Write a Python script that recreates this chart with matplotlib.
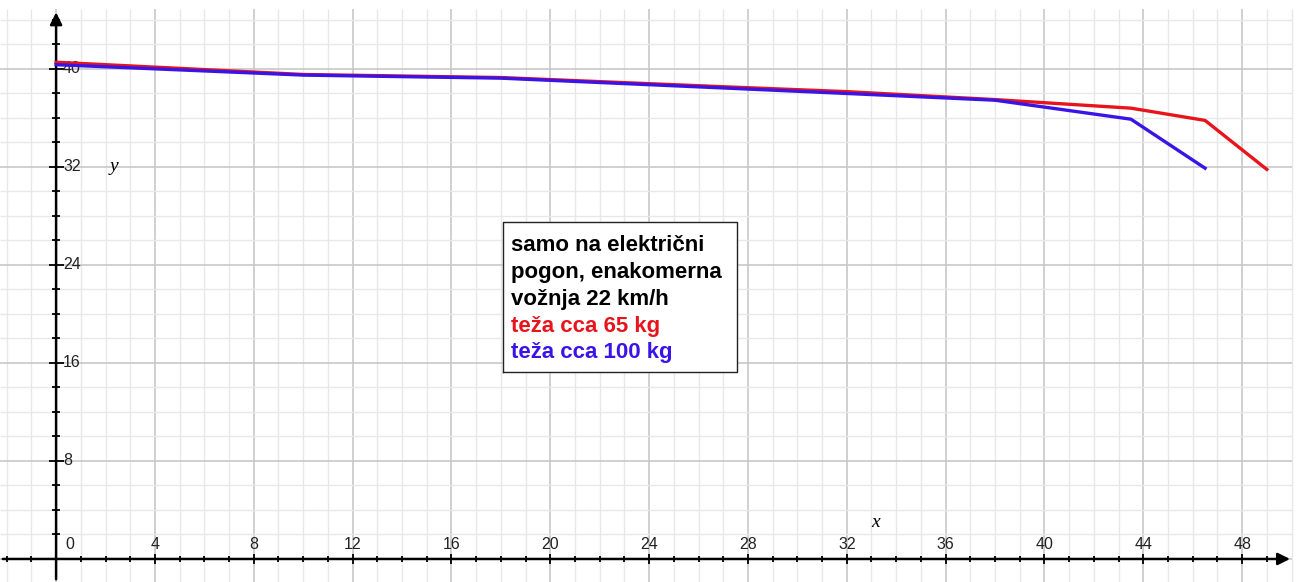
import matplotlib.pyplot as plt
import numpy as np

# podatki odčitani z grafa
x_65 = [0, 10, 18, 27, 32, 38, 43.5, 46.5, 49]
y_65 = [40.55, 39.55, 39.3, 38.55, 38.15, 37.5, 36.8, 35.8, 31.8]
x_100 = [0, 10, 18, 27, 32, 38, 43.5, 46.5]
y_100 = [40.35, 39.5, 39.25, 38.45, 38.0, 37.45, 35.9, 31.9]

x_ticks = [0, 4, 8, 12, 16, 20, 24, 28, 32, 36, 40, 44, 48]
y_ticks = [8, 16, 24, 32, 40]

note = ["samo na električni", "pogon, enakomerna", "vožnja 22 km/h"]
label_65 = "teža cca 65 kg"
label_100 = "teža cca 100 kg"

red = "#e8141c"
blue = "#3a14e6"

fig = plt.figure(figsize=(12.96, 5.82), dpi=100)
ax = fig.add_axes([0, 0, 1, 1])
ax.set_xlim(-2.27, 50.18)
ax.set_ylim(-1.88, 45.63)
ax.axis("off")

# mreža
y_top = 44.9
for gx in np.arange(-2, 51, 1):
    c = "#c8c8c8" if gx % 4 == 0 else "#e8e8e8"
    ax.vlines(gx, -1.88, y_top, color=c, lw=1.2 if gx % 4 == 0 else 1.0, zorder=1)
for gy in np.arange(-0, 45, 2):
    c = "#c8c8c8" if gy % 8 == 0 else "#e8e8e8"
    ax.hlines(gy, -2.27, 50.0, color=c, lw=1.2 if gy % 8 == 0 else 1.0, zorder=1)

# osi s puščicama
ax.annotate("", xy=(50.05, 0), xytext=(-2.27, 0),
            arrowprops=dict(arrowstyle="-|>", color="black", lw=1.8, mutation_scale=18),
            zorder=3)
ax.annotate("", xy=(0, 44.85), xytext=(0, -1.88),
            arrowprops=dict(arrowstyle="-|>", color="black", lw=1.8, mutation_scale=18),
            zorder=3)

# zareze
for tx in np.arange(-2, 50, 1):
    h = 0.4 if tx % 4 == 0 else 0.25
    ax.vlines(tx, -h, h, color="black", lw=1.3, zorder=3)
for ty in np.arange(-0, 45, 2):
    if ty == 0:
        continue
    h = 0.3 if ty % 8 == 0 else 0.15
    ax.hlines(ty, -h, h, color="black", lw=1.3, zorder=3)

for tx in x_ticks:
    ax.text(tx + (0.55 if tx == 0 else 0), 1.15, str(tx), ha="center", va="center",
            fontsize=11.5, color="#222222", family="Liberation Sans", zorder=4)
for ty in y_ticks:
    ax.text(0.28, ty, str(ty), ha="left", va="center",
            fontsize=11.5, color="#222222", family="Liberation Sans", zorder=4)

ax.text(2.35, 32.0, "y", fontsize=14, style="italic", family="Liberation Serif",
        ha="center", va="center")
ax.text(33.15, 2.95, "x", fontsize=14, style="italic", family="Liberation Serif",
        ha="center", va="center")

# krivulji
ax.plot(x_65, y_65, color=red, lw=2.4, zorder=5)
ax.plot(x_100, y_100, color=blue, lw=2.4, zorder=6)

# okvir z besedilom
x0, x1 = 18.1, 27.55
y1, y0 = 27.5, 15.25
ax.fill([x0, x1, x1, x0], [y0, y0, y1, y1], color="white", zorder=7)
ax.plot([x0, x1, x1, x0, x0], [y0, y0, y1, y1, y0], color="#222222", lw=1.0, zorder=8)
lines = note + [label_65, label_100]
colors = ["black", "black", "black", red, blue]
for i, (t, c) in enumerate(zip(lines, colors)):
    ax.text(x0 + 0.3, 25.55 - i * 2.18, t, color=c, fontsize=16, fontweight="bold",
            family="Liberation Sans", ha="left", va="center", zorder=9)

fig.savefig("out.png", dpi=100)
